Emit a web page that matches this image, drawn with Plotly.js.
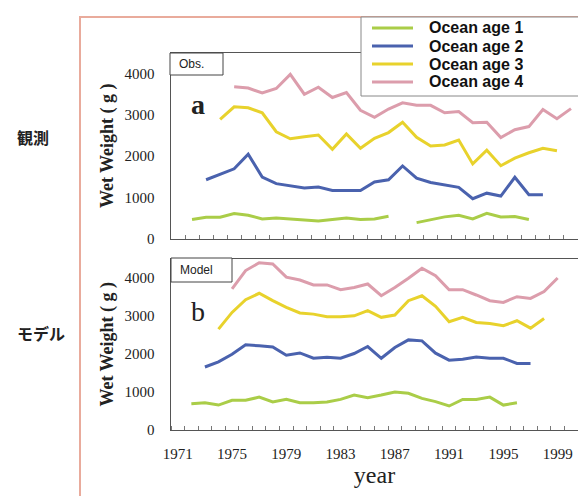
<!DOCTYPE html>
<html>
<head>
<meta charset="utf-8">
<script src="https://cdn.plot.ly/plotly-3.0.1.min.js"></script>
<style>html,body{margin:0;padding:0;background:#ffffff;}#chart{width:578px;height:496px;}</style>
</head>
<body>
<div id="chart"></div>
<script>
// ---------- data ----------
const seriesNames = ["Ocean age 1", "Ocean age 2", "Ocean age 3", "Ocean age 4"];
const seriesColors = ["#aacd48", "#4a62ae", "#e8d22c", "#dc9dac"];

// Panel a (Obs.) : years 1971-1999
const obsYears = [1971,1972,1973,1974,1975,1976,1977,1978,1979,1980,1981,1982,1983,1984,1985,1986,1987,1988,1989,1990,1991,1992,1993,1994,1995,1996,1997,1998,1999];
const obsAge1 = [null,460,515,515,605,565,475,500,475,450,425,460,500,460,475,540,null,385,460,525,565,475,610,520,535,460,null,null,null];
const obsAge2 = [null,null,1425,1560,1690,2045,1490,1330,1280,1225,1250,1165,1165,1165,1370,1425,1760,1465,1360,1305,1240,965,1100,1030,1485,1060,1060,null,null];
const obsAge3 = [null,null,null,2890,3195,3170,3050,2590,2420,2470,2510,2165,2535,2190,2430,2570,2820,2455,2245,2270,2390,1810,2140,1765,1950,2080,2190,2130,null];
const obsAge4 = [null,null,null,null,3680,3650,3530,3640,3980,3500,3670,3420,3540,3110,2940,3140,3290,3230,3230,3050,3080,2810,2820,2450,2640,2715,3130,2905,3150];

// Panel b (Model) : years 1971-2000
const modYears = [1971,1972,1973,1974,1975,1976,1977,1978,1979,1980,1981,1982,1983,1984,1985,1986,1987,1988,1989,1990,1991,1992,1993,1994,1995,1996,1997,1998,1999,2000];
const modAge1 = [null,680,705,645,770,770,855,725,795,705,705,725,795,910,840,910,990,955,820,735,620,795,795,855,645,705,null,null,null,null];
const modAge2 = [null,null,1650,1785,1985,2235,2210,2180,1960,2020,1880,1905,1880,2005,2190,1880,2165,2365,2340,2015,1830,1855,1915,1880,1880,1745,1745,null,null,null];
const modAge3 = [null,null,null,2650,3090,3425,3595,3400,3225,3075,3045,2975,2975,3000,3135,2960,3020,3400,3530,3250,2845,2960,2825,2800,2740,2870,2675,2930,null,null];
const modAge4 = [null,null,null,null,3710,4195,4400,4370,4020,3945,3815,3815,3690,3750,3840,3530,3750,3990,4255,4060,3690,3690,3550,3400,3355,3505,3460,3640,4000,null];

const yTickVals = [0, 1000, 2000, 3000, 4000];
const xTickVals = [1971, 1975, 1979, 1983, 1987, 1991, 1995, 1999];
const yTitle = "Wet Weight ( g )";
const xTitle = "year";
const panelLabels = ["a", "b"];
const panelTags = ["Obs.", "Model"];
const rowLabels = ["観測", "モデル"];

// ---------- helpers (pixel -> paper) ----------
const W = 578, H = 496;
const px = x => x / W;
const py = y => 1 - y / H;

const obsSeries = [obsAge1, obsAge2, obsAge3, obsAge4];
const modSeries = [modAge1, modAge2, modAge3, modAge4];

const traces = [];
obsSeries.forEach((vals, i) => traces.push({
  x: obsYears, y: vals, type: "scatter", mode: "lines", name: seriesNames[i],
  line: {color: seriesColors[i], width: 3}, xaxis: "x", yaxis: "y", showlegend: false
}));
modSeries.forEach((vals, i) => traces.push({
  x: modYears, y: vals, type: "scatter", mode: "lines", name: seriesNames[i],
  line: {color: seriesColors[i], width: 3}, xaxis: "x2", yaxis: "y2", showlegend: false
}));

const serif = "Liberation Serif, Times New Roman, serif";
const sans = "Liberation Sans, Arial, sans-serif";
const cjk = "Noto Sans CJK JP, sans-serif";

const xDom = [px(171), 1];
const yaxisCommon = {
  range: [0, 4500], tickmode: "array", tickvals: yTickVals, ticks: "",
  showline: true, linecolor: "#555", linewidth: 1.5, showgrid: false, zeroline: false,
  tickfont: {family: serif, size: 15, color: "#222"}, ticklabelstandoff: 12,
  title: {text: yTitle, font: {family: serif, size: 18, color: "#222", weight: "bold"}, standoff: 6}
};

const shapes = [
  // outer salmon frame
  {type: "rect", xref: "paper", yref: "paper", x0: px(80), x1: 1.05, y0: -0.05, y1: py(17),
   line: {color: "#e9ab9c", width: 2}, fillcolor: "rgba(0,0,0,0)", layer: "below"},
  // Obs. tag box
  {type: "rect", xref: "paper", yref: "paper", x0: px(170), x1: px(223), y0: py(75), y1: py(53),
   line: {color: "#444", width: 1}, fillcolor: "#ffffff", layer: "above"},
  // Model tag box
  {type: "rect", xref: "paper", yref: "paper", x0: px(171), x1: px(232), y0: py(282), y1: py(258),
   line: {color: "#444", width: 1}, fillcolor: "#ffffff", layer: "above"},
  // legend box
  {type: "rect", xref: "paper", yref: "paper", x0: px(361), x1: 1.05, y0: py(96), y1: py(17),
   line: {color: "#888", width: 1}, fillcolor: "#ffffff", layer: "above"}
];
const legendRows = [28, 46, 64, 82];
seriesNames.forEach((n, i) => {
  shapes.push({type: "line", xref: "paper", yref: "paper", x0: px(372), x1: px(413),
    y0: py(legendRows[i]), y1: py(legendRows[i]), line: {color: seriesColors[i], width: 3}, layer: "above"});
});

const annotations = [
  {text: panelTags[0], x: px(177), y: py(64), xanchor: "left", yanchor: "middle",
   font: {family: sans, size: 12, color: "#222"}},
  {text: panelTags[1], x: px(178), y: py(270), xanchor: "left", yanchor: "middle",
   font: {family: sans, size: 12, color: "#222"}},
  {text: panelLabels[0], x: px(198), y: py(104), xanchor: "center", yanchor: "middle",
   font: {family: serif, size: 28, color: "#222", weight: "bold"}},
  {text: panelLabels[1], x: px(198), y: py(311), xanchor: "center", yanchor: "middle",
   font: {family: serif, size: 28, color: "#222"}},
  {text: rowLabels[0], x: px(15), y: py(137), xanchor: "left", yanchor: "middle",
   font: {family: cjk, size: 16, color: "#222", weight: "bold"}},
  {text: rowLabels[1], x: px(15), y: py(333), xanchor: "left", yanchor: "middle",
   font: {family: cjk, size: 16, color: "#222", weight: "bold"}}
];
seriesNames.forEach((n, i) => {
  annotations.push({text: n, x: px(427), y: py(legendRows[i]), xanchor: "left", yanchor: "middle",
    height: 17, valign: "middle",
    font: {family: sans, size: 16, color: "#111", weight: "bold"}});
});
annotations.forEach(a => { a.xref = "paper"; a.yref = "paper"; a.showarrow = false; });

const layout = {
  width: W, height: H,
  margin: {l: 0, r: 0, t: 0, b: 0},
  paper_bgcolor: "#ffffff", plot_bgcolor: "rgba(0,0,0,0)",
  showlegend: false,
  xaxis: {
    domain: xDom, anchor: "y", range: [1970.5, 1999.5],
    tickmode: "linear", tick0: 1970.5, dtick: 1, ticks: "inside", ticklen: 4, tickcolor: "#777",
    showticklabels: false, showline: true, mirror: true, linecolor: "#555", linewidth: 1.5,
    showgrid: false, zeroline: false
  },
  yaxis: Object.assign({}, yaxisCommon, {domain: [py(238.5), py(53)], anchor: "x"}),
  xaxis2: {
    domain: xDom, anchor: "y2", range: [1970.5, 2000.5],
    tickmode: "array", tickvals: xTickVals, ticks: "",
    minor: {tickmode: "linear", tick0: 1970.5, dtick: 1, ticks: "inside", ticklen: 4, tickcolor: "#777"},
    showline: true, mirror: true, linecolor: "#555", linewidth: 1.5, showgrid: false, zeroline: false,
    tickfont: {family: serif, size: 15, color: "#222"}, ticklabelstandoff: 10,
    title: {text: xTitle, font: {family: serif, size: 24, color: "#222"}, standoff: 5}
  },
  yaxis2: Object.assign({}, yaxisCommon, {domain: [py(429.5), py(259)], anchor: "x2"}),
  shapes: shapes,
  annotations: annotations
};

Plotly.newPlot("chart", traces, layout, {displayModeBar: false, staticPlot: true});
</script>
</body>
</html>
